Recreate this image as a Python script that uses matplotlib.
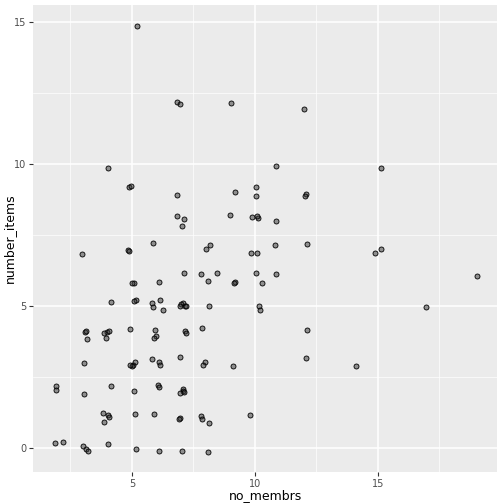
import matplotlib
matplotlib.use("Agg")
import matplotlib.pyplot as plt

no_membrs = [5.20,6.83,6.95,9.02,11.99,4.02,4.88,4.96,6.83,15.12,10.85,10.04,9.19,10.04,12.07,12.03,
6.83,7.11,8.98,9.88,10.12,10.08,10.85,7.03,5.85,4.84,4.88,8.17,8.01,10.81,12.11,9.84,10.08,2.97,15.12,14.88,
19.02,7.11,7.80,8.46,10.04,10.85,6.10,5.08,5.00,9.19,9.15,8.09,10.28,4.15,5.81,6.14,7.07,6.99,7.15,6.95,7.20,
8.13,5.85,6.26,10.16,10.20,16.95,5.16,5.08,3.09,3.13,3.98,3.86,4.07,5.93,7.15,7.20,7.85,12.11,4.92,3.17,3.94,
5.98,5.89,12.07,14.11,5.81,6.95,6.10,6.14,5.12,5.04,5.00,4.92,7.97,7.89,9.11,3.05,3.05,4.15,1.91,1.91,6.06,
6.10,7.07,7.07,7.11,5.08,6.95,3.82,4.02,4.07,5.89,5.12,7.80,7.85,9.80,8.13,6.95,6.91,3.86,3.01,3.13,3.21,
1.87,2.20,4.02,6.10,7.03,8.09,5.16]
number_items = [14.86,12.18,12.11,12.15,11.94,9.86,9.19,9.23,8.91,9.86,9.93,9.19,9.01,8.87,8.94,8.87,
8.17,8.06,8.20,8.13,8.10,8.17,7.99,7.82,7.22,6.97,6.94,7.15,7.01,7.15,7.18,6.87,6.87,6.83,7.01,6.87,
6.06,6.16,6.13,6.16,6.16,6.13,5.85,5.81,5.81,5.85,5.81,5.88,5.81,5.14,5.11,5.21,5.11,5.07,5.00,5.00,5.00,
5.00,4.96,4.86,5.00,4.86,4.96,5.21,5.18,4.08,4.12,4.08,4.05,4.12,4.15,4.12,4.05,4.23,4.15,4.19,3.84,3.87,
3.94,3.87,3.17,2.89,3.13,3.20,3.03,2.92,3.03,2.92,2.89,2.92,3.03,2.92,2.89,2.99,1.90,2.18,2.18,2.04,2.22,
2.15,2.08,2.01,1.97,2.01,1.94,1.23,1.16,1.09,1.20,1.20,1.13,1.02,1.16,0.88,1.06,1.02,0.92,0.07,-0.04,-0.11,
0.18,0.21,0.14,-0.11,-0.11,-0.14,-0.04]

fig = plt.figure(figsize=(5.04, 5.04), dpi=100)
ax = fig.add_axes([33/504, 32/504, 464/504, 467/504])
ax.set_facecolor("#EBEBEB")
ax.scatter(no_membrs, number_items, s=13, facecolor=(0.2, 0.2, 0.2, 0.5),
           edgecolor="black", linewidths=0.6, zorder=3)
ax.set_xlim(0.98, 19.84)
ax.set_ylim(-0.85, 15.6)
ax.set_xticks([5, 10, 15])
ax.set_yticks([0, 5, 10, 15])
ax.set_xticks([2.5, 7.5, 12.5, 17.5], minor=True)
ax.set_yticks([2.5, 7.5, 12.5], minor=True)
ax.grid(which="major", color="white", linewidth=1.1)
ax.grid(which="minor", color="white", linewidth=0.5)
ax.set_axisbelow(True)
for s in ax.spines.values():
    s.set_visible(False)
ax.tick_params(which="major", length=3, pad=2, color="#333333", labelsize=7, labelcolor="#4D4D4D")
ax.tick_params(which="minor", length=0)
ax.set_xlabel("no_membrs", fontsize=9)
ax.set_ylabel("number_items", fontsize=9)
ax.xaxis.set_label_coords(0.5, -0.037)
ax.yaxis.set_label_coords(-0.037, 0.5)
fig.savefig("out.png", dpi=100)
